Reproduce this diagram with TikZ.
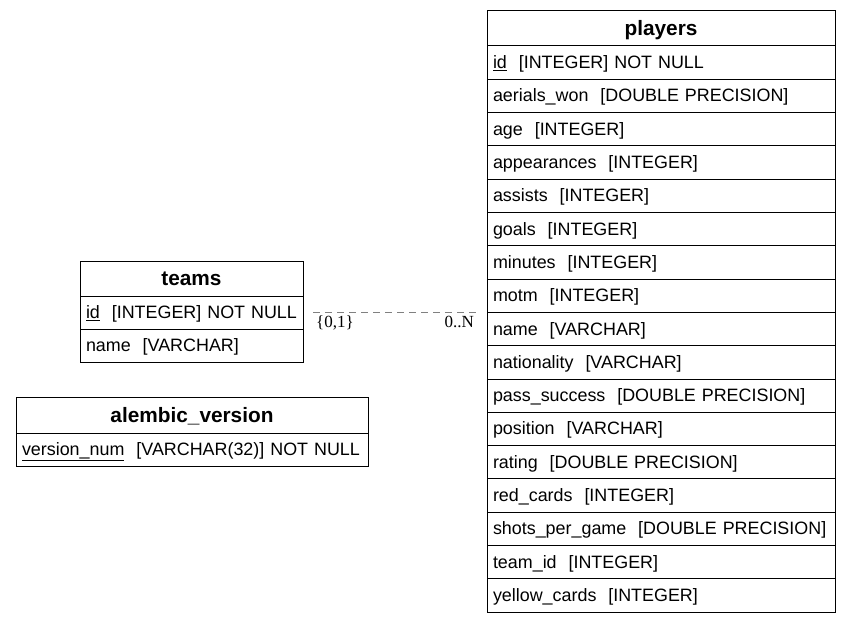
\documentclass[tikz,border=0pt]{standalone}
\usepackage{fontspec}
\setmainfont{Liberation Sans}
\newfontfamily\cardfont{Liberation Serif}
\usetikzlibrary{positioning}

\begin{document}
\begin{tikzpicture}[x=1pt, y=-1pt,
    T/.style={draw, line width=1pt, outer sep=0pt, inner xsep=6pt, inner ysep=0pt,
      align=left, text height=14.5pt, text depth=2.5pt, font=\fontsize{17.9}{20}\selectfont},
    H/.style={T, align=center, minimum height=35pt, text height=16pt, text depth=1.5pt,
      font=\fontsize{20.8}{24}\selectfont\bfseries},
    R/.style={T, minimum height=33.3pt},
    fk/.style={gray, dash pattern=on 7pt off 5pt, line width=0.8pt},
    card/.style={font=\cardfont\fontsize{17}{20}\selectfont, inner sep=1pt}
  ]
  \useasboundingbox (0,0) rectangle (851,623);

  % players
  \node [H, text width=336pt, anchor=north west] (players) at (487,11) {players};
  \node [R, text width=336pt, below=0pt of players] (p1) {\mbox{\underline{id}\ \ [INTEGER] NOT NULL}};
  \foreach \f [count=\i from 2, evaluate=\i as \j using int(\i-1)] in {
      aerials\_won\ \ [DOUBLE PRECISION], age\ \ [INTEGER], appearances\ \ [INTEGER],
      assists\ \ [INTEGER], goals\ \ [INTEGER], minutes\ \ [INTEGER], motm\ \ [INTEGER],
      name\ \ [VARCHAR], nationality\ \ [VARCHAR], pass\_success\ \ [DOUBLE PRECISION],
      position\ \ [VARCHAR], rating\ \ [DOUBLE PRECISION], red\_cards\ \ [INTEGER],
      shots\_per\_game\ \ [DOUBLE PRECISION], team\_id\ \ [INTEGER], yellow\_cards\ \ [INTEGER]}
    \node [R, text width=336pt, below=0pt of p\j] (p\i) {\mbox{\f}};

  % teams
  \node [H, text width=211pt, anchor=north west] (teams) at (80,261) {teams};
  \node [R, text width=211pt, below=0pt of teams] (tid) {\mbox{\underline{id}\ \ [INTEGER] NOT NULL}};
  \node [R, text width=211pt, below=0pt of tid] (tname) {\mbox{name\ \ [VARCHAR]}};

  % alembic_version
  \node [H, text width=340pt, anchor=north west, minimum height=36pt] (alembic) at (16,397) {alembic\_version};
  \node [R, text width=340pt, below=0pt of alembic] (vnum) {\mbox{\underline{version\_num}\ \ [VARCHAR(32)] NOT NULL}};

  % players.team_id -> teams.id
  \coordinate (fkA) at ([xshift=10pt]tid.east);
  \coordinate (fkB) at ([xshift=-10pt]tid.east -| p1.west);
  \draw [fk] (fkA) -- (fkB);
  \node [card, below right=2pt and 2pt of fkA] (cA) {\{0,1\}};
  \node [card, below left=2pt and 2pt of fkB] (cB) {0..N};
\end{tikzpicture}
\end{document}
